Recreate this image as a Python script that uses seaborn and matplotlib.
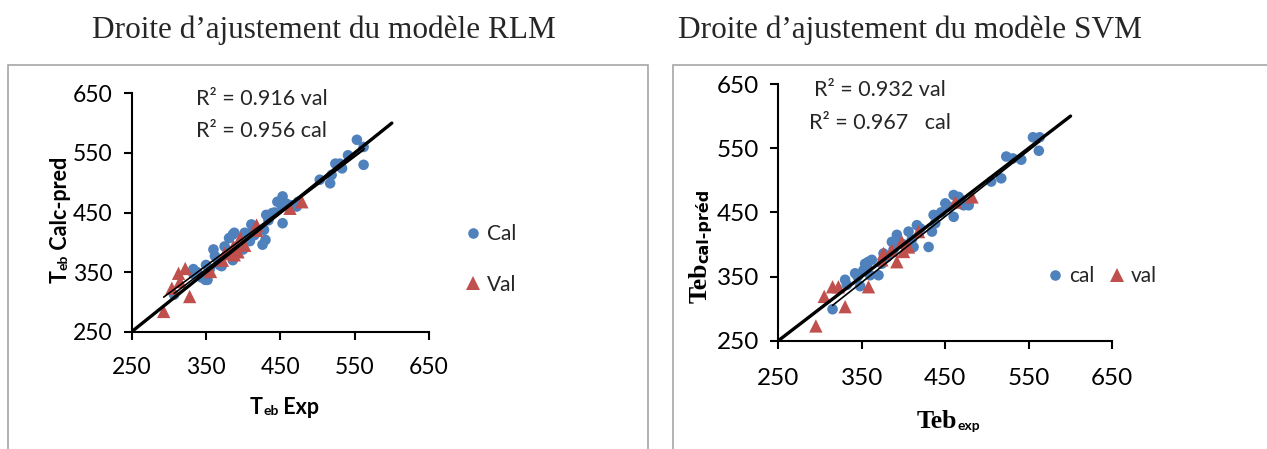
import numpy as np
import pandas as pd
import seaborn as sns
import matplotlib
matplotlib.use("Agg")
import matplotlib.pyplot as plt
from matplotlib.patches import Rectangle

# ---------------- data ----------------
rlm_cal_exp = [307, 333, 333, 344, 349, 352, 350, 360, 362, 368, 371, 375, 381, 386, 388, 386,
               392, 398, 402, 400, 411, 411, 409, 426, 428, 430, 431, 434, 439, 446, 452, 453,
               453, 459, 465, 472, 474, 503, 517, 519, 524, 530, 533, 541, 553, 562, 562,
               338, 355, 365, 380, 384, 396, 405, 415, 420, 442, 458]
rlm_cal_pred = [312, 355, 347, 341, 337, 337, 362, 388, 377, 362, 360, 393, 407, 413, 416, 370,
                393, 401, 416, 388, 430, 416, 402, 396, 421, 404, 446, 437, 449, 468, 460, 477,
                432, 462, 462, 460, 468, 505, 499, 513, 532, 532, 524, 546, 572, 560, 530,
                350, 355, 372, 385, 378, 395, 405, 412, 418, 450, 465]
rlm_val_exp = [293, 304, 313, 322, 315, 328, 356, 372, 375, 387, 393, 396, 402, 418, 418, 463,
               479, 382, 388]
rlm_val_pred = [284, 323, 348, 356, 334, 309, 351, 370, 381, 393, 384, 407, 395, 420, 429, 457,
                468, 384, 379]

svm_cal_exp = [315, 330, 332, 342, 348, 352, 354, 358, 360, 362, 370, 374, 376, 386, 392, 396,
               406, 412, 416, 430, 434, 436, 438, 450, 454, 460, 460, 466, 472, 478, 505, 517,
               523, 531, 541, 555, 563, 562, 345, 356, 380, 388, 400, 410, 420, 445, 468]
svm_cal_pred = [299, 345, 337, 355, 335, 360, 370, 373, 352, 376, 352, 370, 386, 404, 415, 402,
                420, 396, 430, 396, 420, 446, 433, 464, 459, 443, 477, 474, 461, 461, 498, 503,
                537, 534, 532, 567, 567, 546, 350, 365, 380, 392, 400, 408, 425, 450, 470]
svm_val_exp = [295, 305, 315, 322, 330, 358, 374, 376, 386, 392, 398, 400, 406, 418, 462, 482]
svm_val_pred = [273, 319, 334, 334, 303, 334, 376, 386, 391, 373, 404, 389, 396, 420, 466, 474]

diag_x = [250, 600]
diag_y = [250, 600]
rlm_fit1_x = [293, 563]
rlm_fit1_y = [308, 557]
rlm_fit2_x = [307, 562]
rlm_fit2_y = [314, 555]
svm_fit_x = [315, 563]
svm_fit_y = [305, 560]

ticks = [250, 350, 450, 550, 650]

# ---------------- style ----------------
sns.set_theme(style="white")
plt.rcParams["font.family"] = ["Lato", "DejaVu Sans"]

BLUE = "#4F81BD"
RED = "#C0504D"

W, H = 1267, 449
fig = plt.figure(figsize=(W / 100, H / 100), dpi=100)


def fx(px):
    return px / W


def fy(py):
    return 1 - py / H


# panel frames
for (x0, x1) in [(8, 648), (673, 1270)]:
    fig.add_artist(Rectangle((fx(x0), fy(470)), fx(x1) - fx(x0), fy(65) - fy(470),
                             transform=fig.transFigure, fill=False,
                             edgecolor="#A6A6A6", lw=1.2, clip_on=False))

ax1 = fig.add_axes([fx(131.7), fy(331.7), fx(429) - fx(131.7), fy(93.3) - fy(331.7)])
ax2 = fig.add_axes([fx(778.3), fy(340.7), fx(1112.3) - fx(778.3), fy(84) - fy(340.7)])


def make_df(cx, cy, vx, vy, lc, lv):
    return pd.DataFrame({
        "exp": list(cx) + list(vx),
        "pred": list(cy) + list(vy),
        "set": [lc] * len(cx) + [lv] * len(vx),
    })


df1 = make_df(rlm_cal_exp, rlm_cal_pred, rlm_val_exp, rlm_val_pred, "Cal", "Val")
df2 = make_df(svm_cal_exp, svm_cal_pred, svm_val_exp, svm_val_pred, "cal", "val")

# lines
ax1.plot(diag_x, diag_y, color="black", lw=2.4, zorder=3)
ax1.plot(rlm_fit1_x, rlm_fit1_y, color="black", lw=1.2, zorder=3)
ax1.plot(rlm_fit2_x, rlm_fit2_y, color="black", lw=1.2, zorder=3)
ax2.plot(diag_x, diag_y, color="black", lw=2.4, zorder=3)
ax2.plot(svm_fit_x, svm_fit_y, color="black", lw=1.2, zorder=3)

sns.scatterplot(data=df1, x="exp", y="pred", hue="set", style="set",
                palette={"Cal": BLUE, "Val": RED}, markers={"Cal": "o", "Val": "^"},
                size="set", sizes={"Cal": 58, "Val": 92}, linewidth=0, ax=ax1, zorder=2)
sns.scatterplot(data=df2, x="exp", y="pred", hue="set", style="set",
                palette={"cal": BLUE, "val": RED}, markers={"cal": "o", "val": "^"},
                size="set", sizes={"cal": 58, "val": 92}, linewidth=0, ax=ax2, zorder=2)

for ax, fs, xpad in [(ax1, 16.5, 12), (ax2, 17.5, 13.5)]:
    ax.set_xlim(250, 650)
    ax.set_ylim(250, 650)
    ax.set_xticks(ticks)
    ax.set_yticks(ticks)
    for s in ["top", "right"]:
        ax.spines[s].set_visible(False)
    for s in ["left", "bottom"]:
        ax.spines[s].set_color("black")
        ax.spines[s].set_linewidth(1.5)
    ax.tick_params(axis="both", direction="out", length=6, width=1.5, color="black",
                   labelsize=fs, labelcolor="black")
    ax.tick_params(axis="x", bottom=True, pad=xpad)
    ax.tick_params(axis="y", left=True, pad=8)
    ax.set_xlabel("")
    ax.set_ylabel("")
    ax.set_facecolor("white")

# R² texts
ax1.text(337, 641, "R² = 0.916 val", fontsize=15.5, va="center", ha="left")
ax1.text(337, 587, "R² = 0.956 cal", fontsize=15.5, va="center", ha="left")
ax2.text(293, 641, "R² = 0.932 val", fontsize=15.5, va="center", ha="left")
ax2.text(287, 589, "R² = 0.967   cal", fontsize=15.5, va="center", ha="left")

# legends
h1, l1 = ax1.get_legend_handles_labels()
ax1.legend(h1, l1, loc="center left", bbox_to_anchor=(fx(444), fy(259.5)),
           bbox_transform=fig.transFigure, frameon=False, fontsize=15,
           labelspacing=1.45, handletextpad=0.15, handlelength=1.0)
h2, l2 = ax2.get_legend_handles_labels()
ax2.legend(h2, l2, loc="center left", bbox_to_anchor=(fx(1026), fy(276)),
           bbox_transform=fig.transFigure, frameon=False, fontsize=15, ncol=2,
           columnspacing=0.6, handletextpad=0.15, handlelength=1.0)

# titles
fig.text(fx(324), fy(30), "Droite d’ajustement du modèle RLM", family="Liberation Serif",
         fontsize=22.5, ha="center", va="center")
fig.text(fx(910), fy(30), "Droite d’ajustement du modèle SVM", family="Liberation Serif",
         fontsize=22.5, ha="center", va="center")

# composite axis labels
fig.canvas.draw()
renderer = fig.canvas.get_renderer()


def place_h(x_px, base_px, pieces):
    x = x_px
    for txt, kw in pieces:
        t = fig.text(fx(x), fy(base_px + kw.pop("dy", 0)), txt, ha="left", va="baseline", **kw)
        bb = t.get_window_extent(renderer)
        x += bb.width


def place_v(base_px, y_px, pieces):
    # rotated 90 deg, reading bottom to top; base_px = baseline x position
    y = y_px
    for txt, kw in pieces:
        dx = kw.pop("dx", 0)
        t = fig.text(fx(base_px + dx), fy(y), txt, ha="left", va="baseline",
                     rotation=90, rotation_mode="anchor", **kw)
        bb = t.get_window_extent(renderer)
        y -= bb.height


bold_big = dict(fontsize=15.5, fontweight="bold", color="black")
bold_small = dict(fontsize=10, fontweight="bold", color="black")

place_h(250, 414, [("T", dict(bold_big)), ("eb", dict(bold_small, dy=1)),
                   (" Exp", dict(bold_big))])
place_v(67, 283, [("T", dict(bold_big)), ("eb", dict(bold_small, dx=1)),
                  (" Calc-pred", dict(bold_big))])

serif_big = dict(fontsize=18.5, fontweight="bold", family="Liberation Serif", color="black")
sub_wide = dict(fontsize=11.5, fontweight="bold", family="DejaVu Sans", color="black")
place_h(917, 428, [("Teb", dict(serif_big)), ("exp", dict(bold_small, dy=2))])
place_v(707, 303, [("Teb", dict(serif_big)), ("cal-préd", dict(sub_wide, dx=1))])

fig.savefig("out.png", dpi=100, facecolor="white")
